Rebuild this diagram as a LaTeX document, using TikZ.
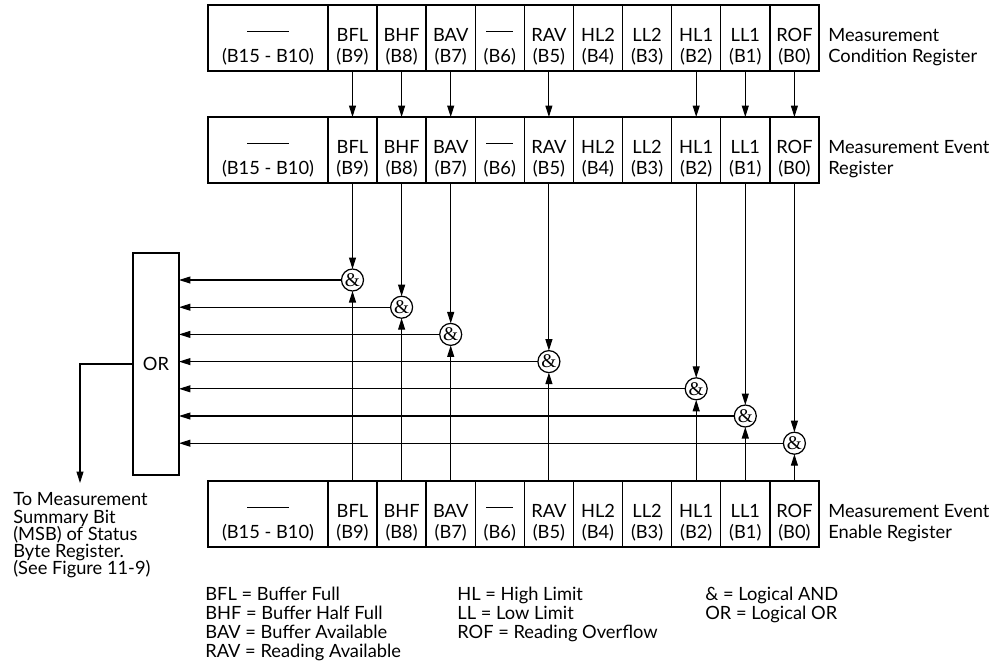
\documentclass[tikz,border=0pt]{standalone}
\usepackage{fontspec}
\setmainfont{Lato}
\newfontfamily\gatefont{Liberation Serif}
\usetikzlibrary{arrows.meta,calc}

\newcommand{\longbar}{\rule[5pt]{0.84cm}{0.6pt}}
\newcommand{\shortbar}{\rule[5pt]{0.54cm}{0.6pt}}

\tikzset{
  txt/.style={inner sep=0pt, font=\fontsize{10.4}{12}\selectfont},
  regcell/.style={draw, line width=0.8pt, minimum height=1.32cm, inner sep=0pt, outer sep=0pt},
  bitcell/.style={regcell, minimum width=0.982cm},
  widecell/.style={regcell, minimum width=2.4cm},
  gate/.style={draw, circle, line width=0.7pt, minimum size=0.44cm, inner sep=0pt, outer sep=0pt, font=\gatefont\fontsize{11}{12}\selectfont},
  orbox/.style={draw, line width=0.8pt, minimum width=0.92cm, minimum height=4.44cm, inner sep=0pt, outer sep=0pt},
  sig/.style={line width=0.6pt, -{Triangle[length=2.3mm,width=1.4mm]}},
}

\begin{document}
\begin{tikzpicture}[x=0.02cm,y=-0.02cm]
\useasboundingbox (0,0) rectangle (1000,667);

% Registres
\foreach \r/\t in {mcr/5, mer/117, mee/481}
{
    \node[widecell] (\r-w) at (268,\t+33) {};
    \node[txt,anchor=base] (\r-w-n) at ($(\r-w.north)+(0,36)$) {\longbar};
    \node[txt,anchor=base] (\r-w-b) at ($(\r-w.north)+(0,57)$) {(B15 - B10)};
    \foreach \b/\n [count=\k from 0] in {9/BFL,8/BHF,7/BAV,6/\shortbar,5/RAV,4/HL2,3/LL2,2/HL1,1/LL1,0/ROF}
    {
        \node[bitcell] (\r-\b) at (352.5+49.1*\k,\t+33) {};
        \node[txt,anchor=base] (\r-\b-n) at ($(\r-\b.north)+(0,36)$) {\n};
        \node[txt,anchor=base] (\r-\b-b) at ($(\r-\b.north)+(0,57)$) {(B\b)};
    }
}

% Noms des registres
\node[txt,anchor=base west] (mcr-l1) at (828,41) {Measurement};
\node[txt,anchor=base west] (mcr-l2) at (828,62) {Condition Register};
\node[txt,anchor=base west] (mer-l1) at (828,153) {Measurement Event};
\node[txt,anchor=base west] (mer-l2) at (828,174) {Register};
\node[txt,anchor=base west] (mee-l1) at (828,517) {Measurement Event};
\node[txt,anchor=base west] (mee-l2) at (828,538) {Enable Register};

% Condition -> Event
\foreach \b in {9,8,7,5,2,1,0}
{
    \draw[sig] (mcr-\b.south) -- (mer-\b.north);
}

% Porte OR
\node[orbox] (or) at (156,364) {};
\node[txt] (or-n) at (or) {OR};

% Portes ET
\foreach \b [count=\i from 0] in {9,8,7,5,2,1,0}
{
    \coordinate (gy-\b) at (0,280+27.2*\i);
    \node[gate] (and-\b) at (mer-\b |- gy-\b) {\&};
    \draw[sig] (mer-\b.south) -- (and-\b.north);
    \draw[sig] (mee-\b.north) -- (and-\b.south);
    \draw[sig] (and-\b.west) -- (and-\b.west -| or.east);
}

% Sortie
\coordinate (msb) at (80,483);
\draw[sig] (or.west) -| (msb);

\foreach \s [count=\i] in {To Measurement,Summary Bit,(MSB) of Status,Byte Register.,(See Figure 11-9)}
{
    \node[txt,anchor=base west] (note-\i) at (13,488.6+17.2*\i) {\s};
}

% Legende
\foreach \s [count=\i] in {BFL = Buffer Full,BHF = Buffer Half Full,BAV = Buffer Available,RAV = Reading Available}
{
    \node[txt,anchor=base west] (leg-a\i) at (205,581+19*\i) {\s};
}
\foreach \s [count=\i] in {HL = High Limit,LL = Low Limit,ROF = Reading Overflow}
{
    \node[txt,anchor=base west] (leg-b\i) at (457,581+19*\i) {\s};
}
\foreach \s [count=\i] in {\& = Logical AND,OR = Logical OR}
{
    \node[txt,anchor=base west] (leg-c\i) at (705,581+19*\i) {\s};
}

\end{tikzpicture}
\end{document}
